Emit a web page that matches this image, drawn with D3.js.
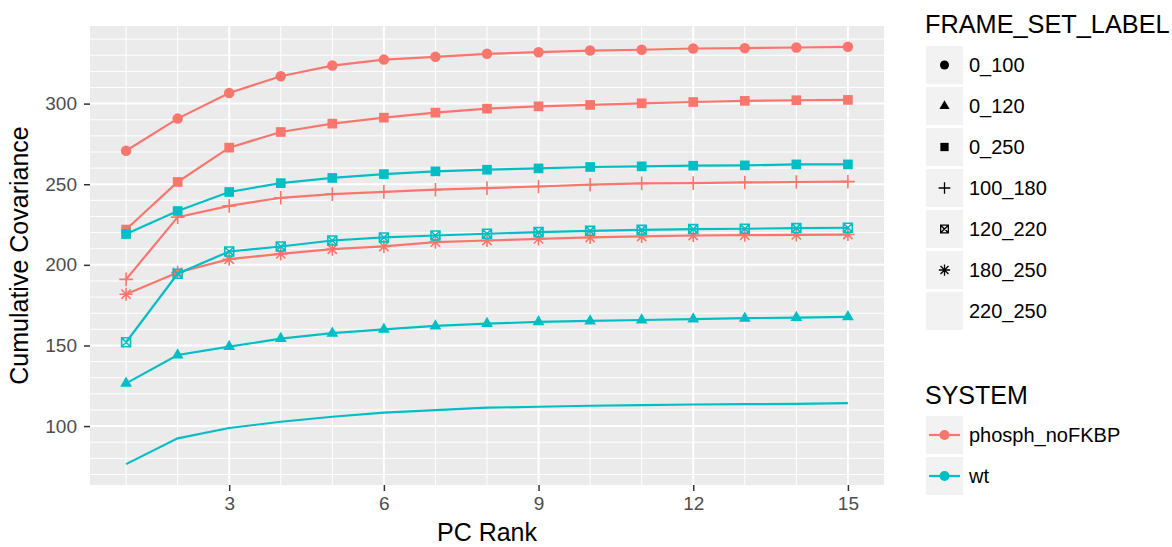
<!DOCTYPE html>
<html>
<head>
<meta charset="utf-8">
<script src="https://cdn.jsdelivr.net/npm/d3@7"></script>
<style>
  body { margin: 0; background: #fff; }
  text { font-family: "Liberation Sans", Arial, sans-serif; }
</style>
</head>
<body>
<div id="chart"></div>
<script>
// PC rank on the x axis
var pcRank = [1, 2, 3, 4, 5, 6, 7, 8, 9, 10, 11, 12, 13, 14, 15];

// Cumulative covariance, one array per system / frame set
var phosph_0_100   = [270.8, 290.7, 306.6, 317.0, 323.6, 327.3, 329.0, 330.9, 331.9, 332.9, 333.4, 334.2, 334.4, 334.8, 335.2];
var phosph_0_250   = [221.9, 251.4, 272.7, 282.4, 287.6, 291.3, 294.4, 296.9, 298.3, 299.2, 300.2, 301.0, 301.7, 302.1, 302.3];
var phosph_100_180 = [191.0, 229.6, 236.6, 241.6, 243.9, 245.3, 246.6, 247.6, 248.6, 249.7, 250.5, 250.7, 251.1, 251.4, 251.6];
var phosph_180_250 = [181.8, 195.3, 203.5, 206.8, 209.7, 211.4, 214.1, 215.1, 216.1, 217.0, 217.6, 218.2, 218.4, 218.6, 218.8];
var wt_0_120       = [126.5, 144.1, 149.3, 154.2, 157.6, 160.0, 162.1, 163.5, 164.6, 165.2, 165.8, 166.3, 166.9, 167.3, 167.7];
var wt_0_250       = [219.1, 233.4, 245.2, 250.7, 253.9, 256.3, 258.0, 259.0, 259.8, 260.7, 261.1, 261.5, 261.7, 262.3, 262.3];
var wt_120_220     = [152.0, 194.5, 208.3, 211.4, 215.1, 217.0, 218.2, 219.3, 220.3, 221.1, 221.7, 222.2, 222.4, 222.8, 223.0];
var wt_220_250     = [76.4, 92.4, 98.8, 102.7, 105.8, 108.3, 109.9, 111.4, 112.0, 112.6, 113.0, 113.4, 113.6, 113.8, 114.3];

// Legend categories
var systems = ["phosph_noFKBP", "wt"];
var frameSets = ["0_100", "0_120", "0_250", "100_180", "120_220", "180_250", "220_250"];
var shapeNames = ["circle", "triangle", "square", "plus", "squareCross", "asterisk", "none"];

var xTicks = [3, 6, 9, 12, 15];
var yTicks = [100, 150, 200, 250, 300];

var series = [
  {system: "phosph_noFKBP", frame: "0_100",   values: phosph_0_100},
  {system: "phosph_noFKBP", frame: "0_250",   values: phosph_0_250},
  {system: "phosph_noFKBP", frame: "100_180", values: phosph_100_180},
  {system: "phosph_noFKBP", frame: "180_250", values: phosph_180_250},
  {system: "wt", frame: "0_120",   values: wt_0_120},
  {system: "wt", frame: "0_250",   values: wt_0_250},
  {system: "wt", frame: "120_220", values: wt_120_220},
  {system: "wt", frame: "220_250", values: wt_220_250}
];

var width = 1172, height = 547;
var panel = {left: 90, top: 26, right: 884, bottom: 485};

var svg = d3.select("#chart")
  .append("svg")
  .attr("width", width)
  .attr("height", height);

// Scales (ggplot style 5% expansion)
var allVals = d3.merge(series.map(function(s) { return s.values; }));
var yMin = d3.min(allVals), yMax = d3.max(allVals), yPad = (yMax - yMin) * 0.05;
var xPad = (d3.max(pcRank) - d3.min(pcRank)) * 0.05;

var x = d3.scaleLinear()
  .domain([d3.min(pcRank) - xPad, d3.max(pcRank) + xPad])
  .range([panel.left, panel.right]);

var y = d3.scaleLinear()
  .domain([yMin - yPad, yMax + yPad])
  .range([panel.bottom, panel.top]);

var color = d3.scaleOrdinal().domain(systems).range(["#F8766D", "#00BFC4"]);
var shape = d3.scaleOrdinal().domain(frameSets).range(shapeNames);

// Panel background + grid
svg.append("rect")
  .attr("x", panel.left).attr("y", panel.top)
  .attr("width", panel.right - panel.left)
  .attr("height", panel.bottom - panel.top)
  .attr("fill", "#EBEBEB");

var yMinor = d3.range(70, 350, 10).filter(function(v) { return v % 50 !== 0; });
var xMinor = pcRank.filter(function(v) { return v % 3 !== 0; });

var grid = svg.append("g");
grid.selectAll(".ymin").data(yMinor).enter().append("line")
  .attr("x1", panel.left).attr("x2", panel.right)
  .attr("y1", function(d) { return y(d); }).attr("y2", function(d) { return y(d); })
  .attr("stroke", "#fff").attr("stroke-width", 1);
grid.selectAll(".xmin").data(xMinor).enter().append("line")
  .attr("y1", panel.top).attr("y2", panel.bottom)
  .attr("x1", function(d) { return x(d); }).attr("x2", function(d) { return x(d); })
  .attr("stroke", "#fff").attr("stroke-width", 1);
grid.selectAll(".ymaj").data(yTicks).enter().append("line")
  .attr("x1", panel.left).attr("x2", panel.right)
  .attr("y1", function(d) { return y(d); }).attr("y2", function(d) { return y(d); })
  .attr("stroke", "#fff").attr("stroke-width", 2);
grid.selectAll(".xmaj").data(xTicks).enter().append("line")
  .attr("y1", panel.top).attr("y2", panel.bottom)
  .attr("x1", function(d) { return x(d); }).attr("x2", function(d) { return x(d); })
  .attr("stroke", "#fff").attr("stroke-width", 2);

// Axes
var xAxis = svg.append("g")
  .attr("transform", "translate(0," + panel.bottom + ")")
  .call(d3.axisBottom(x).tickValues(xTicks).tickSize(6).tickPadding(6));
var yAxis = svg.append("g")
  .attr("transform", "translate(" + panel.left + ",0)")
  .call(d3.axisLeft(y).tickValues(yTicks).tickSize(6).tickPadding(7));

[xAxis, yAxis].forEach(function(a) {
  a.select(".domain").remove();
  a.selectAll(".tick line").attr("stroke", "#333").attr("stroke-width", 1.5);
  a.selectAll(".tick text")
    .attr("fill", "#4D4D4D")
    .style("font-size", "19px")
    .style("font-family", "'Liberation Sans', Arial, sans-serif");
});

// Axis titles
svg.append("text")
  .attr("x", (panel.left + panel.right) / 2).attr("y", 541)
  .attr("text-anchor", "middle")
  .style("font-size", "25px")
  .text("PC Rank");

svg.append("text")
  .attr("transform", "translate(28," + (panel.top + panel.bottom) / 2 + ") rotate(-90)")
  .attr("text-anchor", "middle")
  .style("font-size", "25px")
  .text("Cumulative Covariance");

// Marker paths
function markerPath(name, s) {
  var r = s / 2;
  if (name === "circle") return d3.symbol(d3.symbolCircle, Math.PI * r * r)();
  if (name === "triangle") return d3.symbol(d3.symbolTriangle, s * s * 0.55)();
  if (name === "square") return d3.symbol(d3.symbolSquare, s * s * 0.85)();
  if (name === "plus") return "M" + (-r * 1.3) + ",0H" + (r * 1.3) + "M0," + (-r * 1.3) + "V" + (r * 1.3);
  if (name === "squareCross") {
    var q = r * 0.85;
    return "M" + (-q) + "," + (-q) + "H" + q + "V" + q + "H" + (-q) + "Z" +
      "M" + (-q) + "," + (-q) + "L" + q + "," + q + "M" + q + "," + (-q) + "L" + (-q) + "," + q;
  }
  if (name === "asterisk") {
    var a = r * 1.25, b = a * 0.707;
    return "M" + (-a) + ",0H" + a + "M0," + (-a) + "V" + a +
      "M" + (-b) + "," + (-b) + "L" + b + "," + b + "M" + b + "," + (-b) + "L" + (-b) + "," + b;
  }
  return null;
}
function isStroked(name) { return name === "plus" || name === "squareCross" || name === "asterisk"; }

// Lines
var line = d3.line()
  .x(function(d, i) { return x(pcRank[i]); })
  .y(function(d) { return y(d); });

var groups = svg.selectAll(".series").data(series).enter().append("g");

groups.append("path")
  .attr("d", function(s) { return line(s.values); })
  .attr("fill", "none")
  .attr("stroke", function(s) { return color(s.system); })
  .attr("stroke-width", 2.2);

groups.each(function(s) {
  var shp = shape(s.frame);
  if (shp === "none") return;
  d3.select(this).selectAll("path.pt").data(s.values).enter().append("path")
    .attr("class", "pt")
    .attr("transform", function(d, i) { return "translate(" + x(pcRank[i]) + "," + y(d) + ")"; })
    .attr("d", markerPath(shp, 10.5))
    .attr("fill", isStroked(shp) ? "none" : color(s.system))
    .attr("stroke", isStroked(shp) ? color(s.system) : "none")
    .attr("stroke-width", 1.6);
});

// Legend: FRAME_SET_LABEL
var legX = 926, keySize = 38, keyStep = 41;
svg.append("text")
  .attr("x", legX - 1).attr("y", 33)
  .style("font-size", "25.3px")
  .text("FRAME_SET_LABEL");

var frameLeg = svg.selectAll(".fl").data(frameSets).enter().append("g")
  .attr("transform", function(d, i) { return "translate(" + legX + "," + (46 + i * keyStep) + ")"; });
frameLeg.append("rect")
  .attr("width", keySize - 1).attr("height", keySize)
  .attr("fill", "#F2F2F2");
frameLeg.each(function(d) {
  var shp = shape(d);
  if (shp === "none") return;
  d3.select(this).append("path")
    .attr("transform", "translate(" + (keySize - 1) / 2 + "," + keySize / 2 + ")")
    .attr("d", markerPath(shp, 9))
    .attr("fill", isStroked(shp) ? "none" : "#000")
    .attr("stroke", isStroked(shp) ? "#000" : "none")
    .attr("stroke-width", 1.3);
});
frameLeg.append("text")
  .attr("x", 43).attr("y", keySize / 2).attr("dy", "0.36em")
  .style("font-size", "20px")
  .text(function(d) { return d; });

// Legend: SYSTEM
svg.append("text")
  .attr("x", legX - 1).attr("y", 404)
  .style("font-size", "25px")
  .text("SYSTEM");

var sysLeg = svg.selectAll(".sl").data(systems).enter().append("g")
  .attr("transform", function(d, i) { return "translate(" + legX + "," + (416 + i * keyStep) + ")"; });
sysLeg.append("rect")
  .attr("width", keySize - 1).attr("height", keySize)
  .attr("fill", "#F2F2F2");
sysLeg.append("line")
  .attr("x1", 3).attr("x2", keySize - 4)
  .attr("y1", keySize / 2).attr("y2", keySize / 2)
  .attr("stroke", function(d) { return color(d); })
  .attr("stroke-width", 2.2);
sysLeg.append("circle")
  .attr("cx", (keySize - 1) / 2).attr("cy", keySize / 2).attr("r", 5)
  .attr("fill", function(d) { return color(d); });
sysLeg.append("text")
  .attr("x", 43).attr("y", keySize / 2).attr("dy", "0.36em")
  .style("font-size", "20px")
  .text(function(d) { return d; });
</script>
</body>
</html>
